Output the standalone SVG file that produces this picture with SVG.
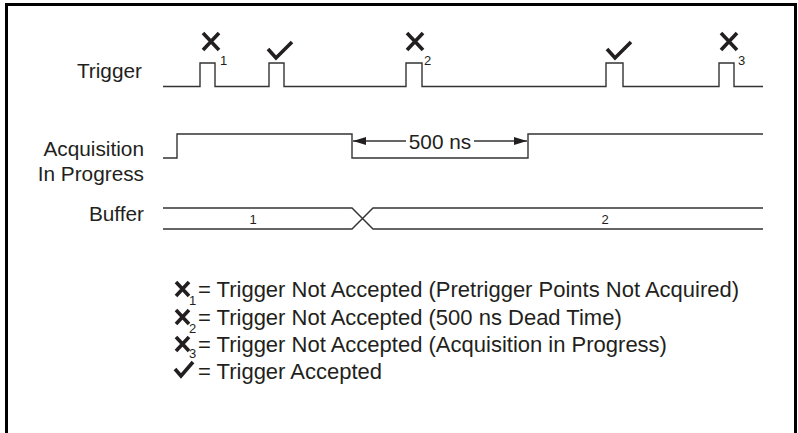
<svg xmlns="http://www.w3.org/2000/svg" width="798" height="433" viewBox="0 0 798 433">
<defs>
<style>
.lbl{font-family:"Liberation Sans",Arial,sans-serif;font-size:20.8px;fill:#231f20}
.leg{font-family:"Liberation Sans",Arial,sans-serif;font-size:22px;fill:#231f20}
.sm{font-family:"Liberation Sans",Arial,sans-serif;font-size:13px;fill:#231f20}
.sig{fill:none;stroke:#333;stroke-width:1.4}
.sym{fill:none;stroke:#231f20;stroke-width:3.6}
.frame{fill:none;stroke:#000;stroke-width:3}
</style>
<marker id="ah" viewBox="0 0 13 8" refX="13" refY="4" markerWidth="13" markerHeight="8" markerUnits="userSpaceOnUse" orient="auto">
<path d="M0,0 L13,4 L0,8 Z" fill="#231f20"/>
</marker>
</defs>
<rect width="798" height="433" fill="#fff"/>
<path class="frame" d="M6.5,433 V4.5 H795.5 V433"/>

<g id="labels">
<text class="lbl" x="142" y="78" text-anchor="end">Trigger</text>
<text class="lbl" x="144" y="156" text-anchor="end">Acquisition</text>
<text class="lbl" x="144" y="181" text-anchor="end">In Progress</text>
<text class="lbl" x="144" y="221" text-anchor="end">Buffer</text>
</g>

<g id="connectors">
<path id="trigger-signal" class="sig" d="M163,86.5 H200 V63 H215 V86.5 H269 V63 H284 V86.5 H406 V63 H422 V86.5 H606 V63 H623 V86.5 H719 V63 H734 V86.5 H763"/>
<path id="acq-signal" class="sig" d="M163,158 H177 V134 H352 V158 H528 V134 H763"/>
<path id="buffer-signal" class="sig" d="M163,208 H352 L373,229 H763 M163,229 H352 L373,208 H763"/>
<line class="sig" x1="406" y1="141" x2="353" y2="141" marker-end="url(#ah)"/>
<line class="sig" x1="474" y1="141" x2="527" y2="141" marker-end="url(#ah)"/>
</g>

<g id="timing-text">
<text class="lbl" x="440" y="148.5" text-anchor="middle">500 ns</text>
<text class="sm" x="253" y="224" text-anchor="middle">1</text>
<text class="sm" x="605" y="224" text-anchor="middle">2</text>
</g>

<g id="mark-x1">
<path class="sym" d="M203,33 L219,50 M219,33 L203,50"/>
<text class="sm" x="220" y="65">1</text>
</g>
<g id="mark-check1">
<path class="sym" d="M268,49 L276,58 L292,42"/>
</g>
<g id="mark-x2">
<path class="sym" d="M407,33 L423,50 M423,33 L407,50"/>
<text class="sm" x="424" y="65">2</text>
</g>
<g id="mark-check2">
<path class="sym" d="M607,49 L615,58 L631,42"/>
</g>
<g id="mark-x3">
<path class="sym" d="M721,33 L737,50 M737,33 L721,50"/>
<text class="sm" x="738" y="65">3</text>
</g>

<g id="legend">
<g id="legend-x1">
<path class="sym" d="M176,282 L189,296 M189,282 L176,296"/>
<text class="sm" x="189" y="305">1</text>
<text class="leg" x="198" y="297">= Trigger Not Accepted (Pretrigger Points Not Acquired)</text>
</g>
<g id="legend-x2">
<path class="sym" d="M176,310 L189,324 M189,310 L176,324"/>
<text class="sm" x="189" y="333">2</text>
<text class="leg" x="198" y="325">= Trigger Not Accepted (500 ns Dead Time)</text>
</g>
<g id="legend-x3">
<path class="sym" d="M176,337 L189,351 M189,337 L176,351"/>
<text class="sm" x="189" y="358">3</text>
<text class="leg" x="198" y="352">= Trigger Not Accepted (Acquisition in Progress)</text>
</g>
<g id="legend-check">
<path class="sym" d="M175,369 L181,376 L193,362"/>
<text class="leg" x="198" y="379">= Trigger Accepted</text>
</g>
</g>
</svg>
